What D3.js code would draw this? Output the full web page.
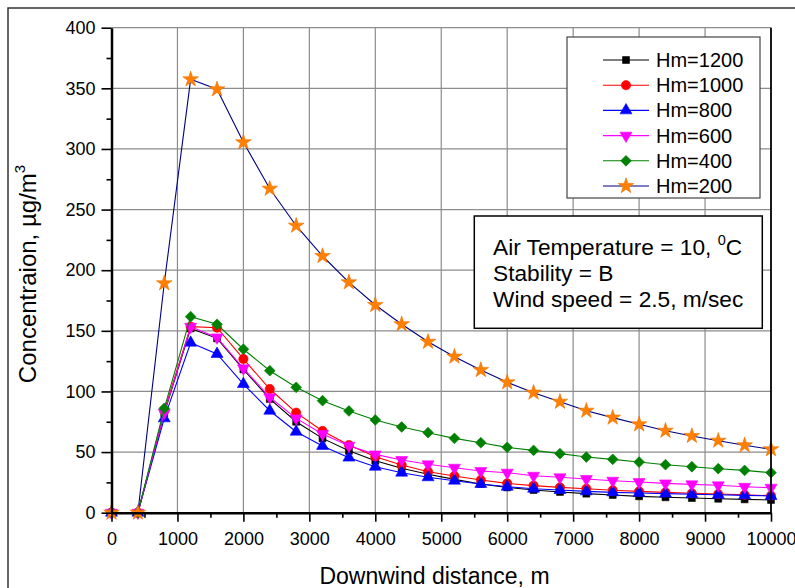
<!DOCTYPE html>
<html>
<head>
<meta charset="utf-8">
<script src="https://cdn.jsdelivr.net/npm/d3@7"></script>
<style>
  body { margin: 0; background: #fff; }
  svg { display: block; font-family: "Liberation Sans", Arial, sans-serif; }
</style>
</head>
<body>
<svg id="chart" width="795" height="588"></svg>
<script>
// Downwind distance (m) at which concentration was computed
const distance = [0, 400, 800, 1200, 1600, 2000, 2400, 2800, 3200, 3600, 4000, 4400, 4800,
                  5200, 5600, 6000, 6400, 6800, 7200, 7600, 8000, 8400, 8800, 9200, 9600, 10000];

// Ground-level concentration (µg/m3) for each mixing height
const hm1200 = [0, 0, 82, 152, 143.8, 118.2, 93.8, 75, 61.3, 51, 42.9, 36.6, 31.7,
                27.5, 23.7, 20.9, 18.7, 17.1, 15.7, 14.6, 13.5, 12.7, 12.1, 11.5, 11, 10.5];
const hm1000 = [0, 0, 84, 153.5, 152.6, 126.8, 102, 82.5, 67.4, 55.8, 46.2, 39.3, 33.8,
                30.3, 27, 24.2, 22.3, 20.9, 19.8, 18.5, 17.6, 16.8, 16, 15.4, 14.8, 14];
const hm800  = [0, 0, 77.8, 140.2, 130.9, 106.1, 84.1, 66.8, 55, 45.4, 37.9, 33, 29.2,
                26.4, 23.7, 21.4, 19.8, 18.7, 17.6, 16.8, 16.2, 15.7, 15.2, 14.8, 14.3, 13.8];
const hm600  = [0, 0, 82.5, 153.4, 144.6, 119.1, 95.2, 77.8, 64.9, 55.3, 48.1, 43.5, 39.9,
                37.1, 34.4, 33, 30.5, 29.2, 27.8, 26.4, 25.3, 24.2, 23.4, 22.6, 21.4, 20.6];
const hm400  = [0, 0, 86.1, 161.7, 155.4, 134.8, 117.1, 103.4, 92.4, 83.9, 76.5, 70.7, 66,
                61.3, 57.7, 53.9, 51.4, 48.7, 45.9, 44, 41.8, 39.6, 37.9, 36.3, 34.9, 33];
const hm200  = [0, 0, 189.2, 357.4, 349.2, 305.5, 267.2, 236.7, 211.7, 190, 171.3, 155.4, 141,
                128.7, 117.7, 107.5, 99, 91.5, 84.1, 78.4, 72.9, 67.6, 63.3, 59.4, 55.6, 52.3];

const seriesNames = ["Hm=1200", "Hm=1000", "Hm=800", "Hm=600", "Hm=400", "Hm=200"];
const xTicks = [0, 1000, 2000, 3000, 4000, 5000, 6000, 7000, 8000, 9000, 10000];
const yTicks = [0, 50, 100, 150, 200, 250, 300, 350, 400];

// Line colour, marker fill and marker shape per series
const styles = [
  { line: "#000000", fill: "#000000", shape: "square" },
  { line: "#ff0000", fill: "#ff0000", shape: "circle" },
  { line: "#0000ff", fill: "#0000ff", shape: "triangleUp" },
  { line: "#ff00ff", fill: "#ff00ff", shape: "triangleDown" },
  { line: "#008000", fill: "#008000", shape: "diamond" },
  { line: "#000080", fill: "#ff8000", shape: "star" }
];

const series = [hm1200, hm1000, hm800, hm600, hm400, hm200].map((vals, i) => ({
  name: seriesNames[i],
  style: styles[i],
  points: distance.map((d, j) => ({ x: d, y: vals[j] }))
}));

const svg = d3.select("#chart");

// Plot area
const plotLeft = 111.5, plotRight = 771, plotTop = 27.7, plotBottom = 512.7;
const x = d3.scaleLinear().domain([0, 10000]).range([plotLeft, plotRight]);
const y = d3.scaleLinear().domain([0, 400]).range([plotBottom, plotTop]);

// Outer frame
svg.append("rect")
  .attr("x", 8).attr("y", 8).attr("width", 830).attr("height", 630)
  .attr("fill", "none").attr("stroke", "#333").attr("stroke-width", 1.5);

// Grid
const grid = svg.append("g").attr("stroke", "#8c8c8c").attr("stroke-width", 1.2);
grid.selectAll("line.gx").data(xTicks.filter(t => t > 0 && t < 10000)).join("line")
  .attr("class", "gx")
  .attr("x1", d => x(d)).attr("x2", d => x(d)).attr("y1", plotTop).attr("y2", plotBottom);
grid.selectAll("line.gy").data(yTicks.filter(t => t > 0)).join("line")
  .attr("class", "gy")
  .attr("x1", plotLeft).attr("x2", plotRight).attr("y1", d => y(d)).attr("y2", d => y(d));

// Marker shapes
function markerPath(shape) {
  switch (shape) {
    case "square": return d3.symbol(d3.symbolSquare, 48)();
    case "circle": return d3.symbol(d3.symbolCircle, 68)();
    case "triangleUp": return d3.symbol(d3.symbolTriangle, 62)();
    case "triangleDown": return d3.symbol(d3.symbolTriangle, 62)();
    case "diamond": return d3.symbol(d3.symbolSquare, 58)();
    case "star": return d3.symbol(d3.symbolStar, 76)();
  }
}
function markerRotate(shape) {
  if (shape === "triangleDown") return 180;
  if (shape === "diamond") return 45;
  return 0;
}

// Series lines and markers, later series drawn on top
const line = d3.line().x(d => x(d.x)).y(d => y(d.y));
series.forEach(s => {
  const g = svg.append("g");
  g.append("path").datum(s.points)
    .attr("d", line).attr("fill", "none")
    .attr("stroke", s.style.line).attr("stroke-width", 1.1);
  g.selectAll("path.m").data(s.points).join("path")
    .attr("class", "m")
    .attr("d", markerPath(s.style.shape))
    .attr("transform", d => `translate(${x(d.x)},${y(d.y)}) rotate(${markerRotate(s.style.shape)})`)
    .attr("fill", s.style.fill)
    .attr("stroke", s.style.shape === "star" ? "#f07000" : s.style.fill)
    .attr("stroke-width", 0.6);
});

// Axes
const xMinor = d3.range(500, 10000, 1000);
const yMinor = d3.range(25, 400, 50);

const xAxis = svg.append("g").attr("transform", `translate(0,${plotBottom})`)
  .call(d3.axisBottom(x).tickValues(xTicks).tickFormat(d3.format("d"))
    .tickSizeInner(9).tickSizeOuter(0).tickPadding(11));
svg.append("g").attr("transform", `translate(0,${plotBottom})`)
  .call(d3.axisBottom(x).tickValues(xMinor).tickFormat("").tickSizeInner(5).tickSizeOuter(0))
  .select(".domain").remove();

const yAxis = svg.append("g").attr("transform", `translate(${plotLeft},0)`)
  .call(d3.axisLeft(y).tickValues(yTicks).tickSizeInner(10).tickSizeOuter(0).tickPadding(6));
svg.append("g").attr("transform", `translate(${plotLeft},0)`)
  .call(d3.axisLeft(y).tickValues(yMinor).tickFormat("").tickSizeInner(5).tickSizeOuter(0))
  .select(".domain").remove();

svg.selectAll(".tick line").attr("stroke", "#000").attr("stroke-width", 1.6);
xAxis.select(".domain").attr("stroke", "#000").attr("stroke-width", 2.5);
yAxis.select(".domain").attr("stroke", "#000").attr("stroke-width", 2.5);
svg.selectAll(".tick text")
  .attr("font-family", "Liberation Sans, Arial, sans-serif")
  .attr("font-size", 18).attr("fill", "#000");

// Right frame line
svg.append("line")
  .attr("x1", plotRight).attr("x2", plotRight).attr("y1", plotTop).attr("y2", plotBottom)
  .attr("stroke", "#000").attr("stroke-width", 1.8);

// Axis titles
svg.append("text")
  .attr("x", 434.5).attr("y", 584)
  .attr("text-anchor", "middle").attr("font-size", 23)
  .text("Downwind distance, m");

const yTitle = svg.append("text")
  .attr("transform", "translate(36,274) rotate(-90)")
  .attr("text-anchor", "middle").attr("font-size", 24);
yTitle.append("tspan").text("Concentraion, µg/m");
yTitle.append("tspan").attr("font-size", 15).attr("dy", -11).text("3");

// Legend
const legend = svg.append("g");
legend.append("rect")
  .attr("x", 567).attr("y", 37).attr("width", 193).attr("height", 161)
  .attr("fill", "#fff").attr("stroke", "#444").attr("stroke-width", 1.2);
series.forEach((s, i) => {
  const cy = 60 + i * 25.2;
  legend.append("line")
    .attr("x1", 603).attr("x2", 649).attr("y1", cy).attr("y2", cy)
    .attr("stroke", s.style.line).attr("stroke-width", 1.1);
  legend.append("path")
    .attr("d", markerPath(s.style.shape))
    .attr("transform", `translate(626,${cy}) rotate(${markerRotate(s.style.shape)})`)
    .attr("fill", s.style.fill)
    .attr("stroke", s.style.shape === "star" ? "#f07000" : s.style.fill)
    .attr("stroke-width", 0.6);
  legend.append("text")
    .attr("x", 656).attr("y", cy + 7)
    .attr("font-size", 20)
    .text(s.name);
});

// Conditions note
const note = svg.append("g");
note.append("rect")
  .attr("x", 474.3).attr("y", 216).attr("width", 288).attr("height", 112.3)
  .attr("fill", "#fff").attr("stroke", "#000").attr("stroke-width", 1.5);
const noteSize = 22.7;
const t1 = note.append("text").attr("x", 493).attr("y", 255).attr("font-size", noteSize);
t1.append("tspan").text("Air Temperature = 10, ");
t1.append("tspan").attr("font-size", 14.5).attr("dy", -10).text("0");
t1.append("tspan").attr("dy", 10).text("C");
note.append("text").attr("x", 493).attr("y", 281).attr("font-size", noteSize).text("Stability = B");
note.append("text").attr("x", 493).attr("y", 307).attr("font-size", noteSize).text("Wind speed = 2.5, m/sec");
</script>
</body>
</html>
